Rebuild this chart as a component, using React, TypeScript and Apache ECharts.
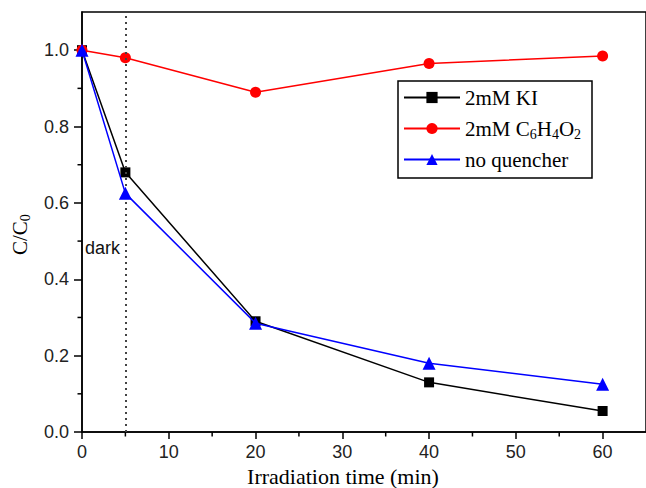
import React, { useEffect, useRef } from "react";
import * as echarts from "echarts";

const timeKI: number[] = [0, 5, 20, 40, 60];
const valuesKI: number[] = [1.0, 0.68, 0.29, 0.13, 0.055];
const timeBQ: number[] = [0, 5, 20, 40, 60];
const valuesBQ: number[] = [1.0, 0.98, 0.89, 0.965, 0.985];
const timeNQ: number[] = [0, 5, 20, 40, 60];
const valuesNQ: number[] = [1.0, 0.625, 0.285, 0.18, 0.125];
const seriesNames: string[] = ["2mM KI", "2mM C6H4O2", "no quencher"];
const xMajorTicks: number[] = [0, 10, 20, 30, 40, 50, 60];
const xMinorTicks: number[] = [5, 15, 25, 35, 45, 55];
const yMajorTicks: number[] = [0, 0.2, 0.4, 0.6, 0.8, 1.0];
const yMinorTicks: number[] = [0.1, 0.3, 0.5, 0.7, 0.9];
const darkTime = 5;

const SANS = "'Liberation Sans', Arial, sans-serif";
const SERIF = "'Liberation Serif', 'Times New Roman', serif";

const pairs = (xs: number[], ys: number[]) => xs.map((x, i) => [x, ys[i]]);

export default function App() {
  const ref = useRef<HTMLDivElement>(null);
  useEffect(() => {
    if (!ref.current) return;
    const chart = echarts.init(ref.current, null, { renderer: "svg" });
    const axisLine = { show: true, lineStyle: { color: "#000", width: 1.5 } };
    const tickStyle = { stroke: "#000", lineWidth: 1.5 };
    chart.setOption({
      animation: false,
      backgroundColor: "#fff",
      grid: {
        left: 82,
        right: 0,
        top: 12,
        bottom: 56,
        show: true,
        borderColor: "#000",
        borderWidth: 1.5,
        outerBoundsMode: "none",
        containLabel: false,
      },
      legend: {
        data: seriesNames,
        orient: "vertical",
        left: 403,
        top: 87,
        itemWidth: 56,
        itemHeight: 14,
        itemGap: 7.5,
        padding: 0,
        formatter: (name: string) =>
          name === "2mM C6H4O2"
            ? "{n|2mM C}{s|6}{n|H}{s|4}{n|O}{s|2}"
            : "{n|" + name + "}",
        textStyle: {
          rich: {
            n: { fontFamily: SERIF, fontSize: 21, color: "#000", lineHeight: 26 },
            s: { fontFamily: SERIF, fontSize: 14, color: "#000", lineHeight: 14, padding: [12, 0, 0, 0] },
          },
        },
      },
      xAxis: {
        type: "value",
        min: 0,
        max: 65,
        axisLine,
        splitLine: { show: false },
        axisTick: { show: true, inside: false, length: 7, lineStyle: { color: "#000", width: 1.5 }, customValues: xMajorTicks },
        axisLabel: { customValues: xMajorTicks, margin: 11, fontFamily: SANS, fontSize: 18, color: "#222" },
        name: "Irradiation time (min)",
        nameLocation: "middle",
        nameGap: 30,
        nameTextStyle: { fontFamily: SERIF, fontSize: 22, color: "#000", padding: [0, 42, 0, 0] },
      },
      yAxis: {
        type: "value",
        min: 0,
        max: 1.1,
        axisLine,
        splitLine: { show: false },
        axisTick: { show: true, length: 8, lineStyle: { color: "#000", width: 1.5 }, customValues: yMajorTicks },
        axisLabel: {
          customValues: yMajorTicks,
          margin: 13,
          fontFamily: SANS,
          fontSize: 18,
          color: "#222",
          formatter: (v: number) => v.toFixed(1),
        },
      },
      graphic: [
        {
          type: "rect",
          shape: { x: 398, y: 81, width: 194, height: 97 },
          style: { fill: "#fff", stroke: "#000", lineWidth: 1.5 },
          z: 1,
        },
        {
          type: "text",
          left: 85,
          top: 239,
          style: { text: "dark", fontFamily: SANS, fontSize: 18, fill: "#111" },
          z: 100,
        },
        {
          type: "text",
          x: 20,
          y: 255,
          rotation: Math.PI / 2,
          style: {
            text: "{n|C/C}{s|0}",
            align: "left",
            verticalAlign: "middle",
            rich: {
              n: { fontFamily: SERIF, fontSize: 21, fill: "#000", lineHeight: 24 },
              s: { fontFamily: SERIF, fontSize: 14, fill: "#000", lineHeight: 14, padding: [10, 0, 0, 0] },
            },
          },
          z: 100,
        },
      ],
      series: [
        {
          name: seriesNames[0],
          type: "line",
          data: pairs(timeKI, valuesKI),
          symbol: "rect",
          symbolSize: 10,
          color: "#000",
          lineStyle: { color: "#000", width: 1.5 },
          itemStyle: { color: "#000" },
          clip: false,
          z: 3,
          markLine: {
            silent: true,
            symbol: ["none", "none"],
            label: { show: false },
            lineStyle: { type: [2, 4], color: "#444", width: 2 },
            data: [{ xAxis: darkTime }],
          },
        },
        {
          name: seriesNames[1],
          type: "line",
          data: pairs(timeBQ, valuesBQ),
          symbol: "circle",
          symbolSize: 11,
          color: "#ff0000",
          lineStyle: { color: "#ff0000", width: 1.5 },
          itemStyle: { color: "#ff0000" },
          clip: false,
          z: 4,
        },
        {
          name: seriesNames[2],
          type: "line",
          data: pairs(timeNQ, valuesNQ),
          symbol: "triangle",
          symbolSize: 13,
          color: "#0000ff",
          lineStyle: { color: "#0000ff", width: 1.5 },
          itemStyle: { color: "#0000ff" },
          clip: false,
          z: 5,
        },
        {
          name: "x minor ticks",
          type: "custom",
          silent: true,
          clip: false,
          data: xMinorTicks.map((v) => [v, 0]),
          renderItem: (_p: any, api: any) => {
            const p = api.coord([api.value(0), api.value(1)]);
            return { type: "line", shape: { x1: p[0], y1: p[1], x2: p[0], y2: p[1] + 4.5 }, style: tickStyle };
          },
          z: 6,
        },
        {
          name: "y minor ticks",
          type: "custom",
          silent: true,
          clip: false,
          data: yMinorTicks.map((v) => [0, v]),
          renderItem: (_p: any, api: any) => {
            const p = api.coord([api.value(0), api.value(1)]);
            return { type: "line", shape: { x1: p[0] - 4.5, y1: p[1], x2: p[0], y2: p[1] }, style: tickStyle };
          },
          z: 6,
        },
      ],
    });
    return () => chart.dispose();
  }, []);
  return (
    <div
      ref={ref}
      style={{ position: "fixed", left: 0, top: 0, width: 646, height: 488 }}
    />
  );
}
